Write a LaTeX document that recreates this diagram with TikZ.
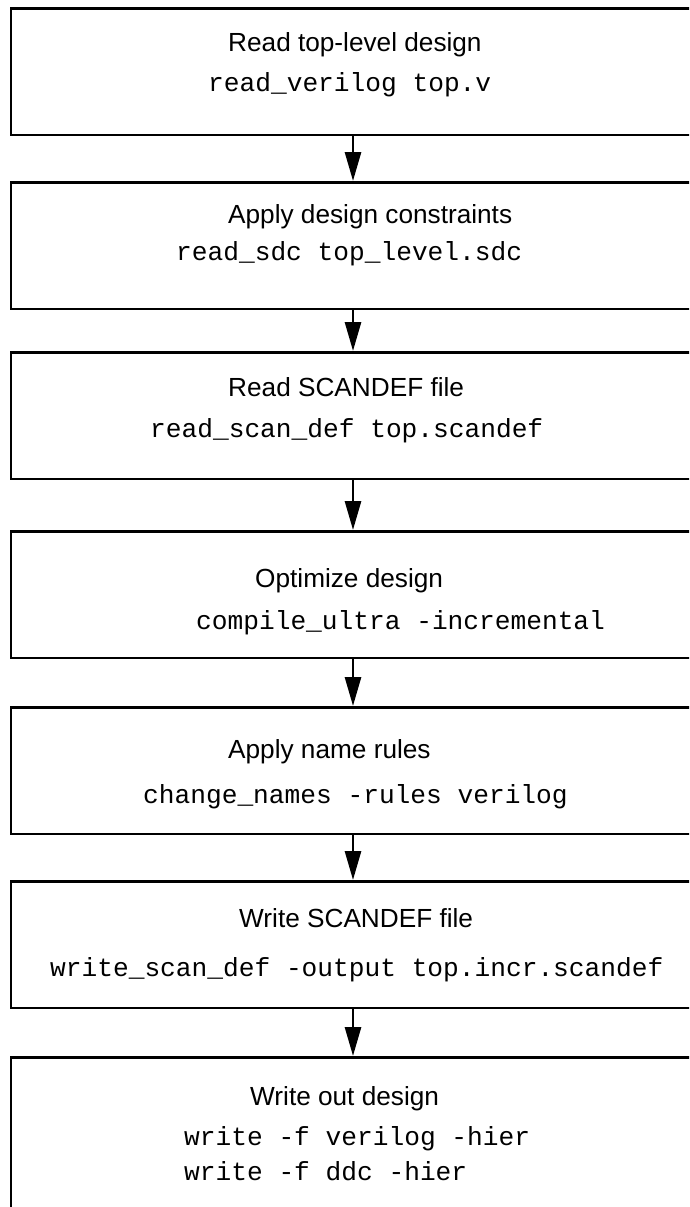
\documentclass[tikz,border=0pt]{standalone}
\usepackage{fontspec}
\setmainfont{Liberation Sans}
\setmonofont{Liberation Mono}
\usetikzlibrary{arrows.meta}

\begin{document}
\begin{tikzpicture}[x=1pt, y=-1pt, line join=miter]
\tikzset{
    stepbox/.style={draw, line width=2.8pt, minimum width=712pt, minimum height=126.5pt, inner sep=0pt, anchor=north west},
    title/.style={anchor=base west, inner sep=0pt, font=\fontsize{26.2}{30}\selectfont},
    cmd/.style={anchor=base west, inner sep=0pt, font=\fontsize{26.2}{30}\selectfont\ttfamily},
    flow/.style={draw, line width=2.8pt, -{Triangle[length=29pt, width=16pt]}}
}
\useasboundingbox (0,0) rectangle (689,1207);
\clip (0,0) rectangle (689,1207);
\coordinate (ax) at (353,0);
% the seven steps, the last one runs off the page
\node[stepbox] (read) at (9.5,7) {};
\node[stepbox] (sdc) at (9.5,181) {};
\node[stepbox] (scan) at (9.5,351) {};
\node[stepbox] (opt) at (9.5,530) {};
\node[stepbox] (names) at (9.5,706) {};
\node[stepbox] (wscan) at (9.5,880) {};
\node[stepbox, minimum height=200pt] (out) at (9.5,1056) {};
% texts
\node[title] (read-t) at (228,52) {Read top-level design};
\node[cmd] (read-c) at (208,91) {read\_verilog top.v};
\node[title] (sdc-t) at (228,223) {Apply design constraints};
\node[cmd] (sdc-c) at (176,260) {read\_sdc top\_level.sdc};
\node[title] (scan-t) at (228,396) {Read SCANDEF file};
\node[cmd] (scan-c) at (150,437) {read\_scan\_def top.scandef};
\node[title] (opt-t) at (255,587) {Optimize design};
\node[cmd] (opt-c) at (196,629) {compile\_ultra -incremental};
\node[title] (names-t) at (228,758) {Apply name rules};
\node[cmd] (names-c) at (143,803) {change\_names -rules verilog};
\node[title] (wscan-t) at (239,927) {Write SCANDEF file};
\node[cmd] (wscan-c) at (50,976) {write\_scan\_def -output top.incr.scandef};
\node[title] (out-t) at (250,1105) {Write out design};
\node[cmd] (out-c1) at (184,1145) {write -f verilog -hier};
\node[cmd] (out-c2) at (184,1180) {write -f ddc -hier};
% arrows
\draw[flow] (read.south -| ax) -- (sdc.north -| ax);
\draw[flow] (sdc.south -| ax) -- (scan.north -| ax);
\draw[flow] (scan.south -| ax) -- (opt.north -| ax);
\draw[flow] (opt.south -| ax) -- (names.north -| ax);
\draw[flow] (names.south -| ax) -- (wscan.north -| ax);
\draw[flow] (wscan.south -| ax) -- (out.north -| ax);
\end{tikzpicture}
\end{document}
